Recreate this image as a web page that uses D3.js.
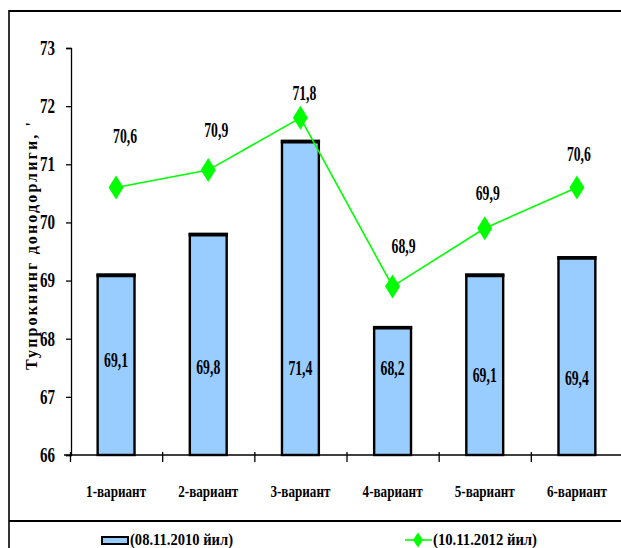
<!DOCTYPE html>
<html>
<head>
<meta charset="utf-8">
<script src="https://cdn.jsdelivr.net/npm/d3@7"></script>
<style>
  html, body { margin: 0; padding: 0; background: #fff; }
  svg { display: block; }
  text { font-family: "Liberation Serif", "Times New Roman", serif; font-weight: bold; fill: #000; }
</style>
</head>
<body>
<svg id="chart" width="621" height="548"></svg>
<script>
// Soil grain quality by variant, two sampling dates
const categories = ["1-вариант", "2-вариант", "3-вариант", "4-вариант", "5-вариант", "6-вариант"];
const values2010 = [69.1, 69.8, 71.4, 68.2, 69.1, 69.4];
const values2012 = [70.6, 70.9, 71.8, 68.9, 69.9, 70.6];
const yTicks = [66, 67, 68, 69, 70, 71, 72, 73];
const seriesNames = ["(08.11.2010 йил)", "(10.11.2012 йил)"];
const yTitle = "Тупрокнинг донодорлиги, '";

// hand-placed label nudges (pixels), one per point
const lineLabelShift = [[9, -52], [8, -40], [4, -25], [11, -40], [3, -35], [2, -34]];
const barLabelRise = [95, 88, 87, 87, 80, 77];

const fmt = v => String(v.toFixed(1)).replace(".", ",");
const BAR_FILL = "#99CCFF";
const GREEN = "#00FF00";

const svg = d3.select("#chart");

const plotLeft = 70, plotRight = 623, plotTop = 48, plotBottom = 455;

const y = d3.scaleLinear().domain([66, 73]).range([plotBottom, plotTop]);
const x = d3.scaleBand().domain(categories).range([plotLeft, plotRight]).padding(0);
const xEdge = d3.scaleLinear().domain([0, categories.length]).range([plotLeft, plotRight]);
const barW = x.bandwidth() * 0.4;
const cx = d => x(d) + x.bandwidth() / 2;

// frame
svg.append("line").attr("x1", 9).attr("x2", 621).attr("y1", 11).attr("y2", 11)
  .attr("stroke", "#000").attr("stroke-width", 2.2);
svg.append("line").attr("x1", 9).attr("x2", 9).attr("y1", 10).attr("y2", 548)
  .attr("stroke", "#000").attr("stroke-width", 1.6);
svg.append("line").attr("x1", 9).attr("x2", 621).attr("y1", 521).attr("y2", 521)
  .attr("stroke", "#000").attr("stroke-width", 2);

// bars
const bars = svg.append("g");
bars.selectAll("rect").data(values2010).join("rect")
  .attr("x", (d, i) => cx(categories[i]) - barW / 2)
  .attr("y", d => y(d))
  .attr("width", barW)
  .attr("height", d => y(66) - y(d))
  .attr("fill", BAR_FILL)
  .attr("stroke", "#000")
  .attr("stroke-width", 2.4);
// heavier top edge on each bar
bars.selectAll("line").data(values2010).join("line")
  .attr("x1", (d, i) => cx(categories[i]) - barW / 2 - 1.2)
  .attr("x2", (d, i) => cx(categories[i]) + barW / 2 + 1.2)
  .attr("y1", d => y(d) + 0.6)
  .attr("y2", d => y(d) + 0.6)
  .attr("stroke", "#000")
  .attr("stroke-width", 3.6);

// y axis
const yAxis = svg.append("g").attr("transform", `translate(${plotLeft + 1},0)`)
  .call(d3.axisLeft(y).tickValues(yTicks).tickSize(5).tickPadding(11).tickFormat(d3.format("d")));
yAxis.select(".domain").attr("stroke", "#000").attr("stroke-width", 1.3);
yAxis.selectAll(".tick line").attr("stroke", "#000").attr("stroke-width", 1.3);
yAxis.selectAll(".tick text")
  .attr("font-size", 20).attr("font-family", "Liberation Serif").attr("font-weight", "bold")
  .attr("textLength", 15).attr("lengthAdjust", "spacingAndGlyphs");

// x axis: baseline with boundary ticks
const xTicks = svg.append("g").attr("transform", `translate(0,${plotBottom})`)
  .call(d3.axisBottom(xEdge).tickValues(d3.range(categories.length + 1)).tickSize(7).tickFormat(""));
xTicks.select(".domain").remove();
xTicks.selectAll(".tick line").attr("stroke", "#000").attr("stroke-width", 1.3).attr("y1", -3);
svg.append("line").attr("x1", 64).attr("x2", 621).attr("y1", plotBottom).attr("y2", plotBottom)
  .attr("stroke", "#000").attr("stroke-width", 1.5);

// category labels
const xAxis = svg.append("g").attr("transform", `translate(0,${plotBottom})`)
  .call(d3.axisBottom(x).tickSize(0).tickPadding(30));
xAxis.select(".domain").remove();
xAxis.selectAll(".tick text")
  .attr("font-size", 17).attr("font-family", "Liberation Serif").attr("font-weight", "bold")
  .attr("textLength", 60).attr("lengthAdjust", "spacingAndGlyphs");

// bar value labels
svg.append("g").selectAll("text").data(values2010).join("text")
  .attr("x", (d, i) => cx(categories[i]))
  .attr("y", (d, i) => plotBottom - barLabelRise[i])
  .attr("dy", "0.35em")
  .attr("text-anchor", "middle")
  .attr("font-size", 20)
  .attr("textLength", 24).attr("lengthAdjust", "spacingAndGlyphs")
  .text(fmt);

// line series
const line = d3.line().x((d, i) => cx(categories[i])).y(d => y(d));
svg.append("path").datum(values2012)
  .attr("d", line).attr("fill", "none").attr("stroke", GREEN).attr("stroke-width", 1.6);

const diamond = (w, h) => `M0,${-h / 2}L${w / 2},0L0,${h / 2}L${-w / 2},0Z`;
svg.append("g").selectAll("path").data(values2012).join("path")
  .attr("transform", (d, i) => `translate(${cx(categories[i])},${y(d)})`)
  .attr("d", diamond(15, 24)).attr("fill", GREEN);

svg.append("g").selectAll("text").data(values2012).join("text")
  .attr("x", (d, i) => cx(categories[i]) + lineLabelShift[i][0])
  .attr("y", (d, i) => y(d) + lineLabelShift[i][1])
  .attr("dy", "0.35em")
  .attr("text-anchor", "middle")
  .attr("font-size", 20)
  .attr("textLength", 24).attr("lengthAdjust", "spacingAndGlyphs")
  .text(fmt);

// y title
svg.append("text")
  .attr("transform", "translate(31,246) rotate(-90)")
  .attr("text-anchor", "middle")
  .attr("dy", "0.35em")
  .attr("font-size", 16)
  .attr("textLength", 248).attr("lengthAdjust", "spacing")
  .text(yTitle);

// legend
const lg = svg.append("g");
lg.append("rect").attr("x", 102).attr("y", 537).attr("width", 26).attr("height", 7)
  .attr("fill", BAR_FILL).attr("stroke", "#000").attr("stroke-width", 2);
lg.append("text").attr("x", 130).attr("y", 545).attr("font-size", 16)
  .attr("textLength", 103).attr("lengthAdjust", "spacingAndGlyphs").text(seriesNames[0]);
lg.append("line").attr("x1", 405).attr("x2", 432).attr("y1", 540).attr("y2", 540)
  .attr("stroke", GREEN).attr("stroke-width", 1.6);
lg.append("path").attr("transform", "translate(418,540)").attr("d", diamond(10, 15)).attr("fill", GREEN);
lg.append("text").attr("x", 433).attr("y", 545).attr("font-size", 16)
  .attr("textLength", 104).attr("lengthAdjust", "spacingAndGlyphs").text(seriesNames[1]);
</script>
</body>
</html>
